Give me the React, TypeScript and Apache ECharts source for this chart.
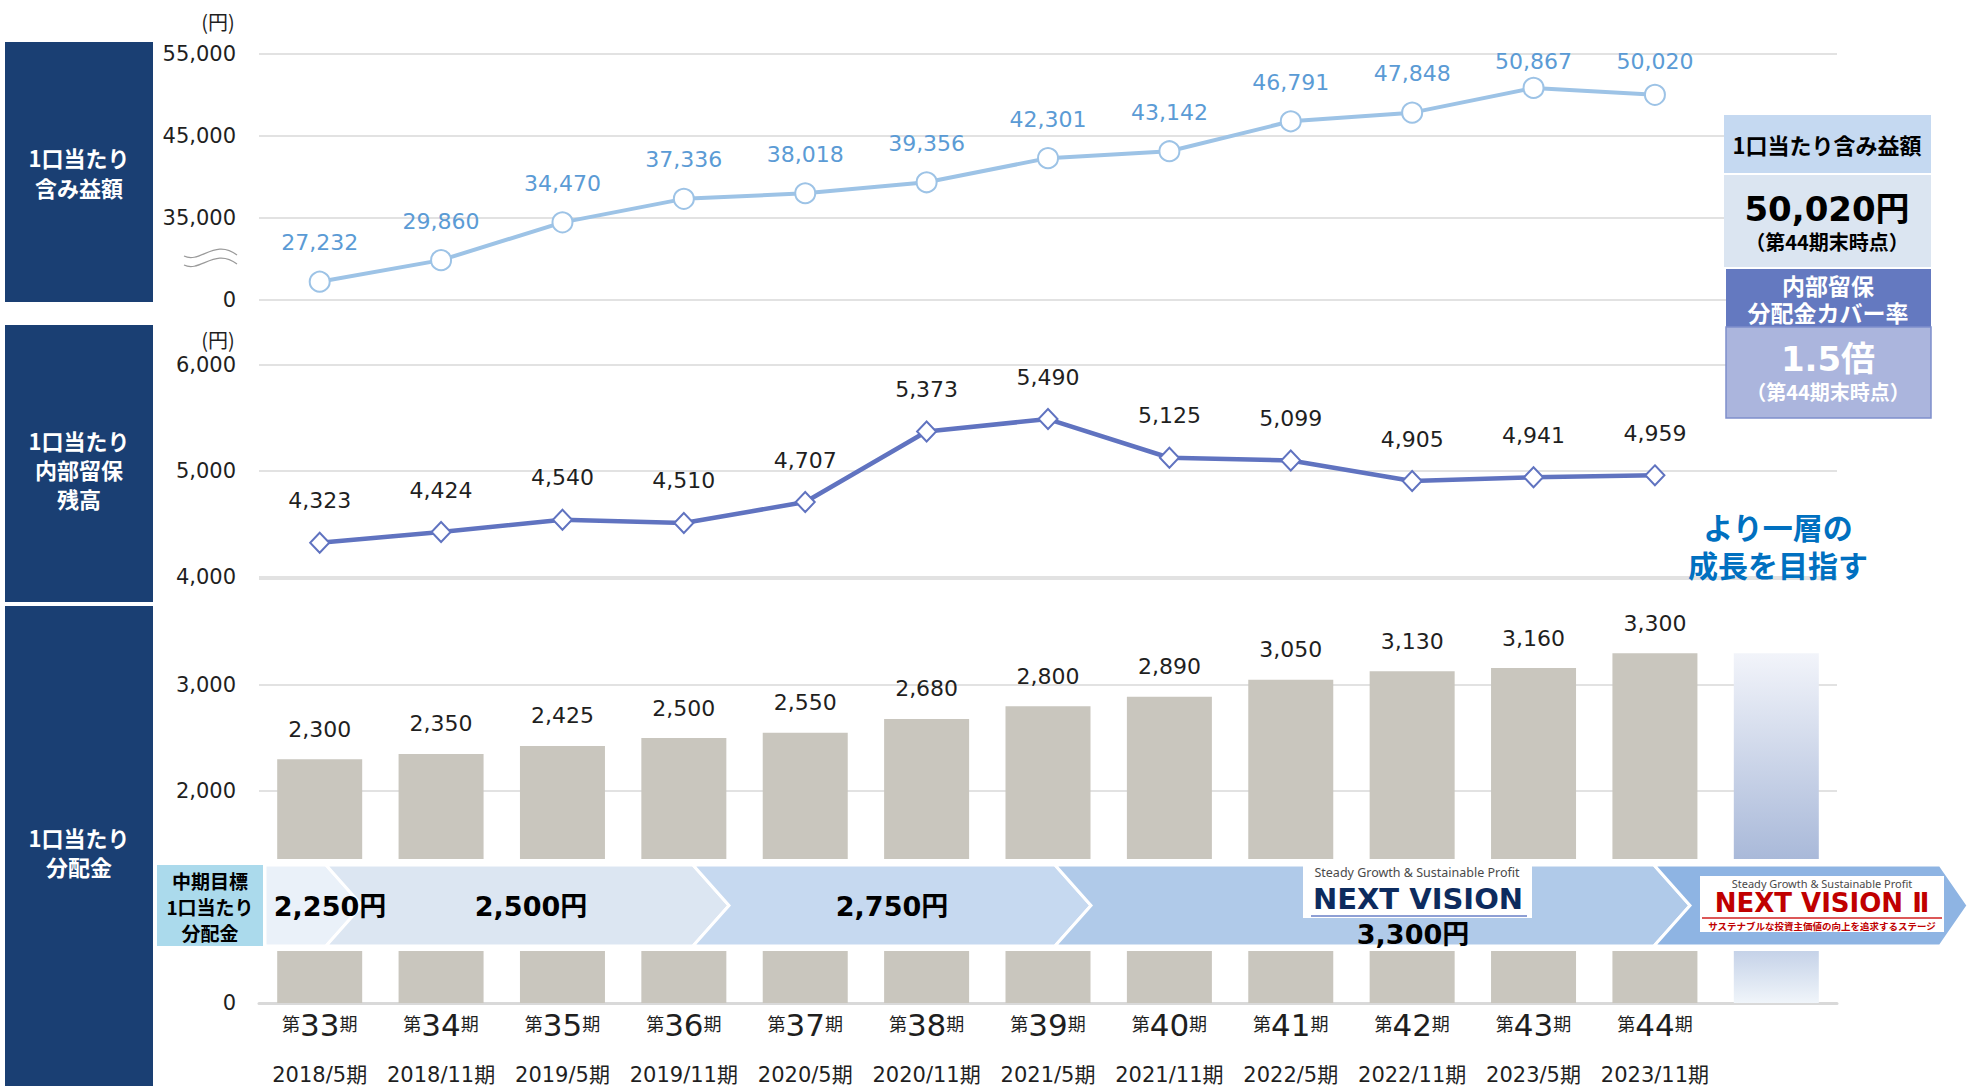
import React, { useEffect, useRef } from 'react';
import * as echarts from 'echarts';

// ---------- data ----------
const periods = ['33', '34', '35', '36', '37', '38', '39', '40', '41', '42', '43', '44'];
const fiscal = ['2018/5期', '2018/11期', '2019/5期', '2019/11期', '2020/5期', '2020/11期', '2021/5期', '2021/11期', '2022/5期', '2022/11期', '2023/5期', '2023/11期'];
const categories = [...periods, 'next'];
const unrealizedGain = [27232, 29860, 34470, 37336, 38018, 39356, 42301, 43142, 46791, 47848, 50867, 50020];
const retainedEarnings = [4323, 4424, 4540, 4510, 4707, 5373, 5490, 5125, 5099, 4905, 4941, 4959];
const distributions = [2300, 2350, 2425, 2500, 2550, 2680, 2800, 2890, 3050, 3130, 3160, 3300];
const futureDistribution = 3300;
const gainTickLabels = ['0', '35,000', '45,000', '55,000'];
const retainedTicks = [4000, 5000, 6000];
const distTicks = [0, 2000, 3000];
const targetLabels = ['2,250円', '2,500円', '2,750円', '3,300円'];
const latestGain = '50,020円';
const coverRatio = '1.5倍';

// ---------- helpers ----------
const FONT = '"Noto Sans CJK JP", "Noto Sans", sans-serif';
const NUM = '"DejaVu Sans", "Noto Sans CJK JP", sans-serif';
const WIDE = '"DejaVu Sans", Verdana, sans-serif';
const fmt = (v: number) => v.toLocaleString('en-US');
const BREAK_OFFSET = 25000; // broken axis: 0 | 35,000 ... 55,000
const gainToAxis = (v: number) => (v <= 0 ? 0 : v - BREAK_OFFSET);

function txt(x: number, y: number, text: string, size: number, o: any = {}) {
  return {
    type: 'text',
    x,
    y,
    z: o.z ?? 30,
    style: {
      text,
      fill: o.color ?? '#000',
      fontSize: size,
      fontWeight: o.bold ? 'bold' : 'normal',
      fontFamily: o.family ?? FONT,
      align: o.align ?? 'center',
      verticalAlign: 'middle',
      textAlign: o.align ?? 'center',
      textVerticalAlign: 'middle',
      lineHeight: o.lh,
    },
  };
}
function rect(x: number, y: number, w: number, h: number, fill: string, o: any = {}) {
  return {
    type: 'rect',
    z: o.z ?? 20,
    shape: { x, y, width: w, height: h },
    style: { fill, stroke: o.stroke ?? null, lineWidth: o.lw ?? 0 },
  };
}

// band chevrons
const BT = 865, BB = 946, BM = (BT + BB) / 2, D = 36;
const segEdges = [265, 362, 729, 1091, 1690];
const segColors = ['#EAF1F9', '#DCE6F2', '#C6D9F0', '#B0CAE9', '#8EB4E3'];
function chevron(i: number) {
  const l = segEdges[i];
  const isLast = i === segEdges.length - 1;
  const r = isLast ? 1968 : segEdges[i + 1];
  const dd = isLast ? 28 : D;
  const pts: number[][] = [];
  if (i === 0) {
    pts.push([l, BT], [r - dd, BT], [r, BM], [r - dd, BB], [l, BB]);
  } else {
    pts.push([l - D, BT], [r - dd, BT], [r, BM], [r - dd, BB], [l - D, BB], [l, BM]);
  }
  return {
    type: 'polygon',
    z: 21 + i,
    shape: { points: pts },
    style: { fill: segColors[i], stroke: '#fff', lineWidth: 3 },
  };
}

const GRID_LEFT = 259, GRID_W = 1578;
// label distance tweaks for points near the top edge
const gainLabelDistance = [17, 17, 17, 17, 17, 17, 17, 17, 17, 17, 4, 11];

export default function App() {
  const ref = useRef<HTMLDivElement>(null);
  useEffect(() => {
    const chart = echarts.init(ref.current!, null, { renderer: 'svg' });
    const axisLabelStyle = { fontSize: 21, color: '#1f1f1f', fontFamily: NUM, margin: 23 };
    const splitLine = { show: true, lineStyle: { color: '#D9D9D9', width: 1.5 } };
    const futureGrad = new echarts.graphic.LinearGradient(0, 0, 0, 1, [
      { offset: 0, color: '#F2F4FA' },
      { offset: 0.59, color: '#A9B9D9' },
      { offset: 0.85, color: '#C5D2E8' },
      { offset: 1, color: '#F0F5FA' },
    ]);

    const elements: any[] = [
      // left navy panels
      rect(5, 42, 148, 260, '#1A3F73'),
      txt(79, 172, '1口当たり\n含み益額', 22, { bold: true, color: '#fff', lh: 30 }),
      rect(5, 325, 148, 277, '#1A3F73'),
      txt(79, 469, '1口当たり\n内部留保\n残高', 22, { bold: true, color: '#fff', lh: 29 }),
      rect(5, 606, 148, 490, '#1A3F73'),
      txt(79, 851, '1口当たり\n分配金', 22, { bold: true, color: '#fff', lh: 29 }),
      // unit labels
      txt(218, 21, '(円)', 20, { color: '#1f1f1f' }),
      txt(218, 339, '(円)', 20, { color: '#1f1f1f' }),
      // axis break mark
      {
        type: 'bezierCurve', z: 30,
        shape: { x1: 184, y1: 256, cpx1: 200, cpy1: 264, cpx2: 215, cpy2: 238, x2: 237, y2: 255 },
        style: { stroke: '#9a9a9a', lineWidth: 1.2, fill: null },
      },
      {
        type: 'bezierCurve', z: 30,
        shape: { x1: 184, y1: 265, cpx1: 200, cpy1: 273, cpx2: 215, cpy2: 247, x2: 237, y2: 264 },
        style: { stroke: '#9a9a9a', lineWidth: 1.2, fill: null },
      },
      // white strip behind the target band
      rect(155, 859, 1815, 92, '#ffffff', { z: 19 }),
      rect(157, 865, 106, 81, '#ABDAEC'),
      txt(210, 906, '中期目標\n1口当たり\n分配金', 19, { bold: true, lh: 26 }),
      ...segEdges.map((_, i) => chevron(i)),
      txt(330, 906, targetLabels[0], 27, { bold: true, z: 40, family: NUM }),
      txt(531, 906, targetLabels[1], 27, { bold: true, z: 40, family: NUM }),
      txt(892, 906, targetLabels[2], 27, { bold: true, z: 40, family: NUM }),
      // NEXT VISION logo
      rect(1303, 865, 229, 53, '#ffffff', { z: 35 }),
      txt(1417, 872, 'Steady Growth & Sustainable Profit', 12.5, { color: '#4a4a4a', family: '"Noto Sans", sans-serif', z: 40 }),
      txt(1418, 899, 'NEXT VISION', 29, { bold: true, color: '#0D2B5E', family: WIDE, z: 40 }),
      { type: 'line', z: 40, shape: { x1: 1311, y1: 916, x2: 1527, y2: 916 }, style: { stroke: '#8E9FD4', lineWidth: 2 } },
      txt(1413, 934, targetLabels[3], 27, { bold: true, z: 40, family: NUM }),
      // NEXT VISION II logo
      rect(1700, 876, 244, 56, '#ffffff', { z: 35 }),
      txt(1822, 883, 'Steady Growth & Sustainable Profit', 11, { color: '#4a4a4a', family: '"Noto Sans", sans-serif', z: 40 }),
      txt(1822, 903, 'NEXT VISION Ⅱ', 26, { bold: true, color: '#C00000', family: WIDE, z: 40 }),
      { type: 'line', z: 40, shape: { x1: 1702, y1: 918, x2: 1942, y2: 918 }, style: { stroke: '#D02020', lineWidth: 1.5 } },
      txt(1822, 926, 'サステナブルな投資主価値の向上を追求するステージ', 9.5, { bold: true, color: '#C00000', z: 40 }),
      // right info boxes
      rect(1724, 115, 207, 58, '#C5D9F1'),
      txt(1827, 144, '1口当たり含み益額', 22, { bold: true }),
      rect(1724, 175, 207, 92, '#DBE5F1'),
      txt(1827, 209, latestGain, 34, { bold: true, family: NUM }),
      txt(1827, 241, '（第44期末時点）', 20, { bold: true }),
      rect(1726, 269, 205, 58, '#6479C0'),
      txt(1828, 298, '内部留保\n分配金カバー率', 23, { bold: true, color: '#fff', lh: 27 }),
      rect(1726, 327, 205, 91, '#ABB5DD', { stroke: '#7F8ECB', lw: 1.5 }),
      txt(1828, 359, coverRatio, 34, { bold: true, color: '#fff', family: NUM }),
      txt(1828, 391, '（第44期末時点）', 20, { bold: true, color: '#fff' }),
      // slogan
      txt(1778, 545, 'より一層の\n成長を目指す', 30, { bold: true, color: '#0070C0', lh: 38 }),
    ];

    const option: any = {
      animation: false,
      backgroundColor: '#ffffff',
      grid: [
        { left: GRID_LEFT, width: GRID_W, top: 54, height: 246 },
        { left: GRID_LEFT, width: GRID_W, top: 365, height: 212 },
        { left: GRID_LEFT, width: GRID_W, top: 579, height: 424 },
      ],
      xAxis: [
        { type: 'category', gridIndex: 0, data: categories, show: false, boundaryGap: true },
        { type: 'category', gridIndex: 1, data: categories, show: false, boundaryGap: true },
        {
          type: 'category', gridIndex: 2, data: categories, boundaryGap: true,
          axisLine: { show: true, lineStyle: { color: '#D9D9D9', width: 3 } },
          axisTick: { show: false },
          axisLabel: {
            interval: 0,
            margin: 2,
            formatter: (_v: string, i: number) =>
              i < periods.length ? `{s|第}{b|${periods[i]}}{s|期}\n{d|${fiscal[i]}}` : '',
            rich: {
              s: { fontSize: 18, fontFamily: FONT, color: '#1f1f1f', lineHeight: 40, padding: [0, 0, 4, 0] },
              b: { fontSize: 31, fontFamily: NUM, color: '#1f1f1f', lineHeight: 40 },
              d: { fontSize: 21, fontFamily: NUM, color: '#1f1f1f', lineHeight: 59 },
            },
          },
        },
      ],
      yAxis: [
        {
          type: 'value', gridIndex: 0, min: 0, max: 30000, interval: 10000,
          axisLine: { show: false }, axisTick: { show: false }, splitLine,
          axisLabel: {
            ...axisLabelStyle,
            formatter: (v: number) => gainTickLabels[Math.round(v / 10000)] ?? '',
          },
        },
        {
          type: 'value', gridIndex: 1, min: 4000, max: 6000, interval: 1000,
          axisLine: { show: false }, axisTick: { show: false }, splitLine,
          axisLabel: {
            ...axisLabelStyle,
            formatter: (v: number) => (retainedTicks.includes(v) ? fmt(v) : ''),
          },
        },
        {
          type: 'value', gridIndex: 2, min: 0, max: 4000, interval: 1000,
          axisLine: { show: false }, axisTick: { show: false }, splitLine,
          axisLabel: {
            ...axisLabelStyle,
            showMaxLabel: false,
            formatter: (v: number) => (distTicks.includes(v) ? fmt(v) : ''),
          },
        },
      ],
      series: [
        {
          type: 'line', xAxisIndex: 0, yAxisIndex: 0,
          data: unrealizedGain.map((v, i) => ({
            value: gainToAxis(v),
            label: { distance: gainLabelDistance[i] },
          })),
          symbol: 'circle', symbolSize: 20,
          lineStyle: { color: '#9DC3E6', width: 4 },
          itemStyle: { color: '#ffffff', borderColor: '#9DC3E6', borderWidth: 2 },
          label: {
            show: true, position: 'top', distance: 17, fontSize: 22, color: '#5B9BD5', fontFamily: NUM,
            formatter: (p: any) => fmt(unrealizedGain[p.dataIndex]),
          },
          z: 5,
        },
        {
          type: 'line', xAxisIndex: 1, yAxisIndex: 1,
          data: retainedEarnings,
          symbol: 'diamond', symbolSize: [19, 20],
          lineStyle: { color: '#6073C0', width: 4.5 },
          itemStyle: { color: '#ffffff', borderColor: '#6073C0', borderWidth: 2 },
          label: {
            show: true, position: 'top', distance: 20, fontSize: 22, color: '#1f1f1f', fontFamily: NUM,
            formatter: (p: any) => fmt(retainedEarnings[p.dataIndex]),
          },
          z: 5,
        },
        {
          type: 'bar', xAxisIndex: 2, yAxisIndex: 2,
          barWidth: 85,
          data: [
            ...distributions,
            { value: futureDistribution, itemStyle: { color: futureGrad }, label: { show: false } },
          ],
          itemStyle: { color: '#C9C6BE' },
          label: {
            show: true, position: 'top', distance: 19, fontSize: 22, color: '#1f1f1f', fontFamily: NUM,
            formatter: (p: any) => fmt(p.value),
          },
          z: 3,
        },
      ],
      graphic: { elements },
    };
    chart.setOption(option);
    return () => chart.dispose();
  }, []);
  return (
    <div
      ref={ref}
      style={{ position: 'fixed', left: 0, top: 0, width: 1970, height: 1086, background: '#fff' }}
    />
  );
}
